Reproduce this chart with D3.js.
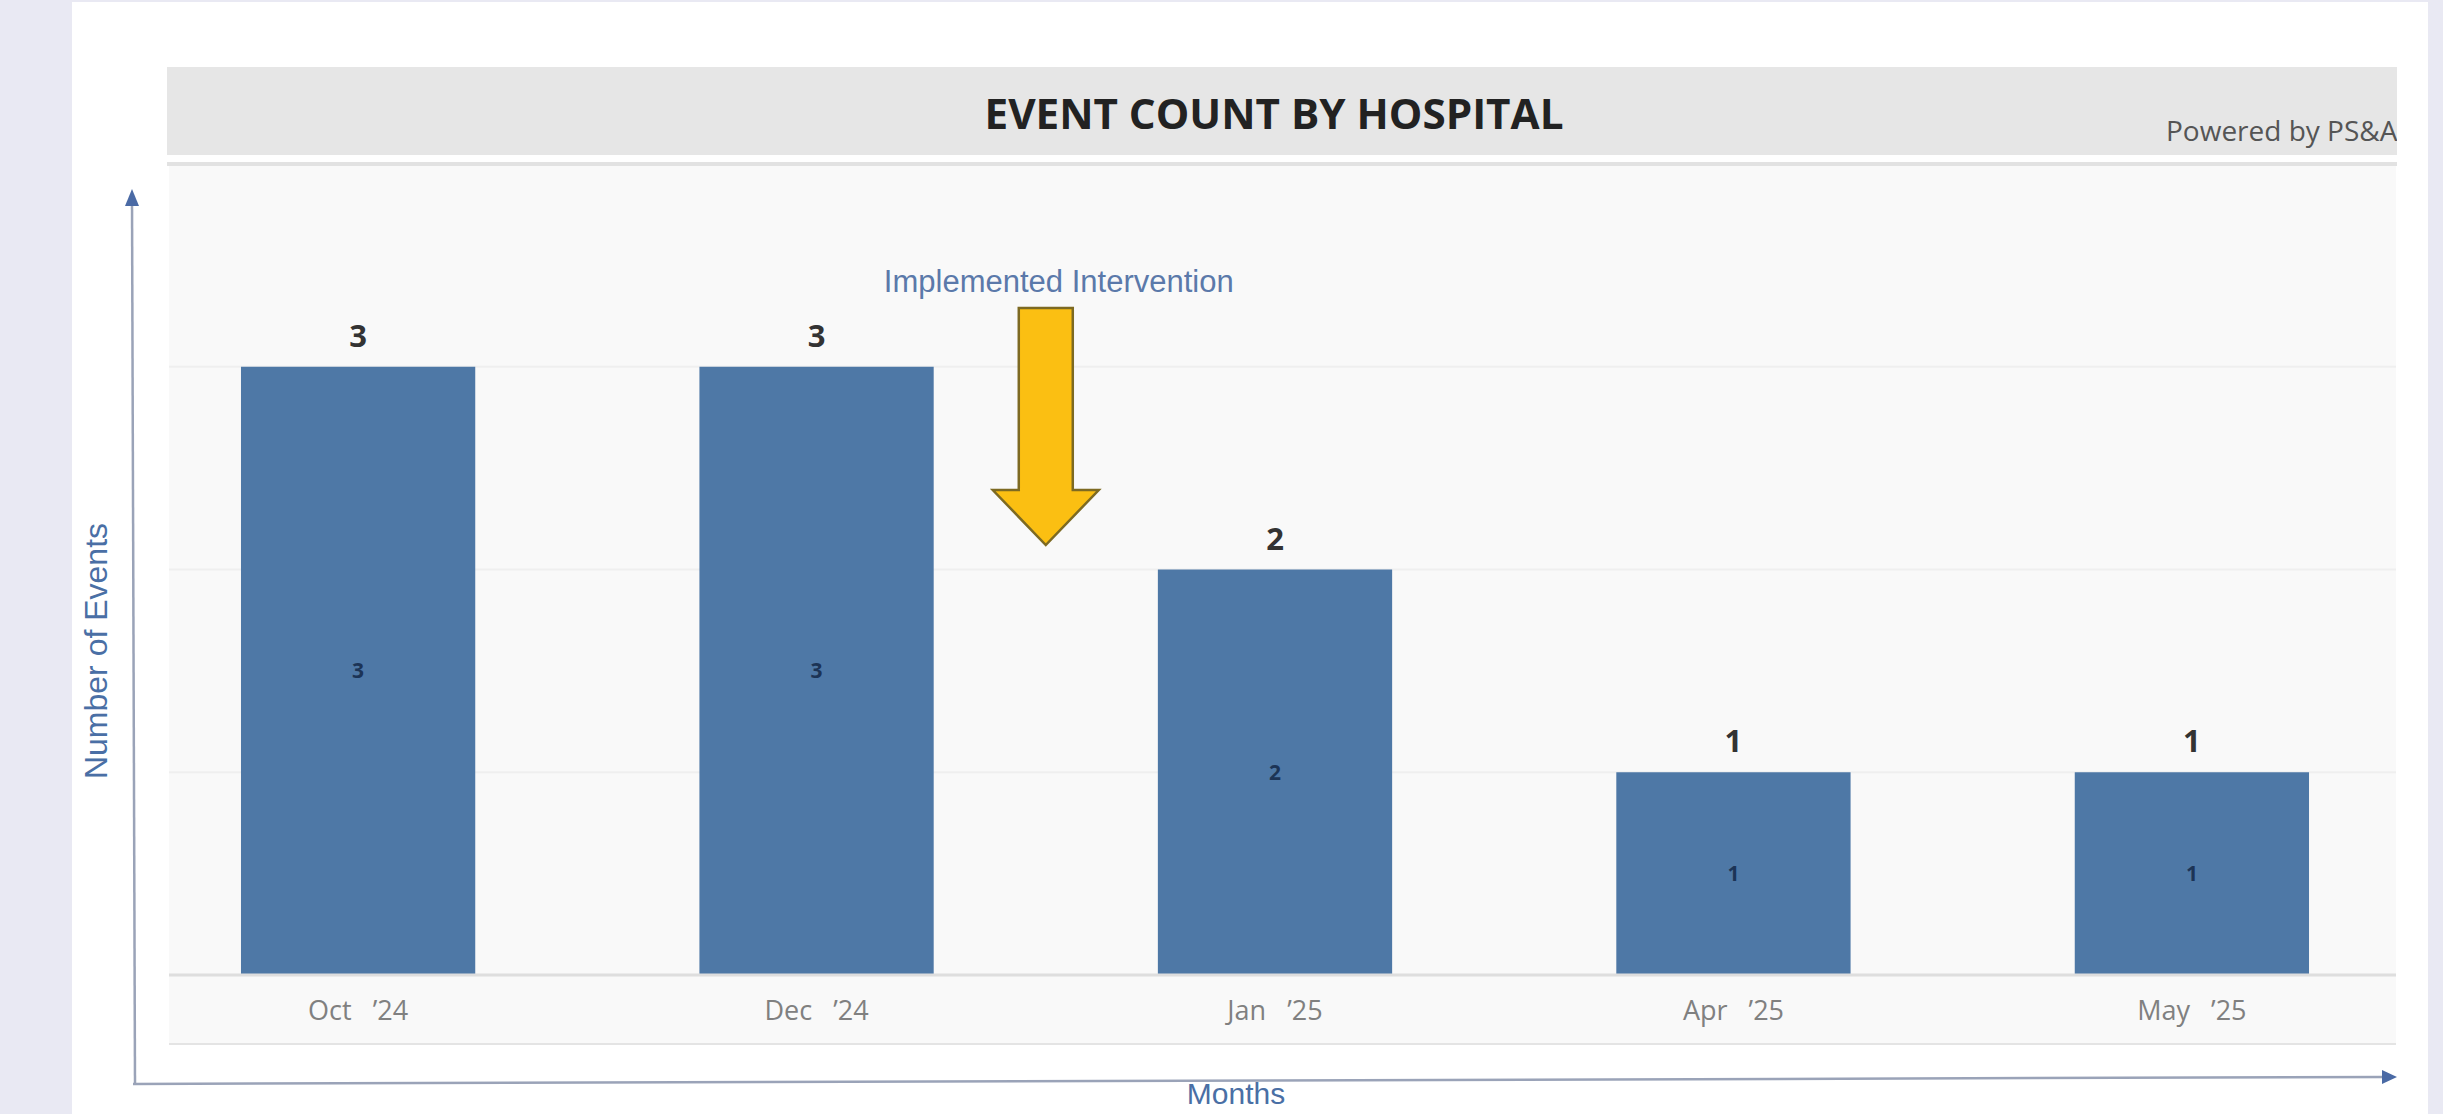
<!DOCTYPE html>
<html>
<head>
<meta charset="utf-8">
<script src="https://cdn.jsdelivr.net/npm/d3@7"></script>
<style>
  html, body { margin: 0; padding: 0; background: #e9e9f3; }
  svg { display: block; }
</style>
</head>
<body>
<div id="chart"></div>
<script>
// data
const months = ['Oct', 'Dec', 'Jan', 'Apr', 'May'];
const years = ['24', '24', '25', '25', '25'];
const counts = [3, 3, 2, 1, 1];
const yTicks = [1, 2, 3];

const data = months.map((m, i) => ({ month: m, label: m + '   \u2019' + years[i], value: counts[i] }));

const width = 2443, height = 1114;

const svg = d3.select('#chart').append('svg')
  .attr('width', width)
  .attr('height', height);

// white panel
svg.append('rect').attr('x', 72).attr('y', 2).attr('width', 2356).attr('height', height)
  .attr('fill', '#ffffff');

// title band
svg.append('defs').append('clipPath').attr('id', 'bandclip')
  .append('rect').attr('x', 167).attr('y', 67).attr('width', 2230).attr('height', 88);
svg.append('rect').attr('x', 167).attr('y', 67).attr('width', 2230).attr('height', 88)
  .attr('fill', '#e6e6e6');
svg.append('rect').attr('x', 167).attr('y', 162).attr('width', 2230).attr('height', 4)
  .attr('fill', '#e2e2e2');

svg.append('text')
  .attr('x', 1274).attr('y', 129)
  .attr('text-anchor', 'middle')
  .attr('textLength', 579)
  .attr('lengthAdjust', 'spacingAndGlyphs')
  .style('font-family', '"Open Sans", sans-serif')
  .style('font-weight', 700)
  .style('font-size', '41px')
  .attr('fill', '#222')
  .text('EVENT COUNT BY HOSPITAL');

svg.append('text')
  .attr('clip-path', 'url(#bandclip)')
  .attr('x', 2166).attr('y', 141)
  .style('font-family', '"Open Sans", sans-serif')
  .style('font-size', '28px')
  .attr('fill', '#555')
  .text('Powered by PS&A');

// plot area background
svg.append('rect').attr('x', 169).attr('y', 166).attr('width', 2227).attr('height', 879)
  .attr('fill', '#f9f9f9');
svg.append('rect').attr('x', 169).attr('y', 1043).attr('width', 2227).attr('height', 2)
  .attr('fill', '#e4e4e4');

// scales
const x = d3.scaleBand()
  .domain(months)
  .range([169, 2381])
  .paddingInner(0.489)
  .paddingOuter(0.157);

const y = d3.scaleLinear()
  .domain([0, 4])
  .range([975, 164]);

// gridlines
svg.append('g')
  .selectAll('line')
  .data(yTicks)
  .enter()
  .append('line')
    .attr('x1', 169).attr('x2', 2396)
    .attr('y1', d => y(d)).attr('y2', d => y(d))
    .attr('stroke', '#efefef')
    .attr('stroke-width', 2);

// bars
svg.append('g')
  .selectAll('rect')
  .data(data)
  .enter()
  .append('rect')
    .attr('x', d => x(d.month))
    .attr('y', d => y(d.value))
    .attr('width', x.bandwidth())
    .attr('height', d => y(0) - y(d.value))
    .attr('fill', '#4e78a6');

// zero line
svg.append('line')
  .attr('x1', 169).attr('x2', 2396)
  .attr('y1', y(0)).attr('y2', y(0))
  .attr('stroke', '#dedede')
  .attr('stroke-width', 3);

// value labels on top
svg.append('g')
  .selectAll('text')
  .data(data)
  .enter()
  .append('text')
    .attr('x', d => x(d.month) + x.bandwidth() / 2)
    .attr('y', d => y(d.value) - 20)
    .attr('text-anchor', 'middle')
    .style('font-family', '"Open Sans", sans-serif')
    .style('font-weight', 700)
    .style('font-size', '31px')
    .attr('fill', '#333')
    .text(d => d.value);

// value labels inside bars
svg.append('g')
  .selectAll('text')
  .data(data)
  .enter()
  .append('text')
    .attr('x', d => x(d.month) + x.bandwidth() / 2)
    .attr('y', d => (y(d.value) + y(0)) / 2)
    .attr('dy', '0.35em')
    .attr('text-anchor', 'middle')
    .style('font-family', '"Open Sans", sans-serif')
    .style('font-weight', 700)
    .style('font-size', '21px')
    .attr('fill', '#1c3456')
    .text(d => d.value);

// month labels
const xAxis = svg.append('g')
  .attr('transform', 'translate(0,' + y(0) + ')')
  .call(d3.axisBottom(x).tickSize(0).tickFormat((m, i) => data[i].label));
xAxis.select('.domain').remove();
xAxis.selectAll('text')
  .attr('y', 45)
  .attr('dy', 0)
  .style('white-space', 'pre')
  .style('font-family', '"Open Sans", sans-serif')
  .style('font-size', '27px')
  .attr('fill', '#808080');

// hand drawn axis arrows
svg.append('line')
  .attr('x1', 135).attr('y1', 1084).attr('x2', 132).attr('y2', 200)
  .attr('stroke', '#9aa3b8').attr('stroke-width', 2.5);
svg.append('path')
  .attr('d', 'M132,189 L139,206 L125,206 Z')
  .attr('fill', '#4a6aa5');

svg.append('line')
  .attr('x1', 133).attr('y1', 1084).attr('x2', 2386).attr('y2', 1077)
  .attr('stroke', '#9aa3b8').attr('stroke-width', 2.5);
svg.append('path')
  .attr('d', 'M2397,1077 L2382,1070 L2382,1084 Z')
  .attr('fill', '#4a6aa5');

svg.append('text')
  .attr('transform', 'translate(107,651) rotate(-90)')
  .attr('text-anchor', 'middle')
  .style('font-family', '"Liberation Sans", Arial, sans-serif')
  .style('font-size', '32px')
  .attr('fill', '#4a6fa5')
  .text('Number of Events');

svg.append('text')
  .attr('x', 1236).attr('y', 1104)
  .attr('text-anchor', 'middle')
  .style('font-family', '"Liberation Sans", Arial, sans-serif')
  .style('font-size', '30px')
  .attr('fill', '#4a6fa5')
  .text('Months');

// intervention annotation, between Dec and Jan
const cx = (x('Dec') + x('Jan')) / 2 + x.bandwidth() / 2;
const shaftW = 27, headW = 53;
const topY = 308, headY = 490, tipY = 545;
svg.append('path')
  .attr('d', `M${cx - shaftW},${topY} L${cx + shaftW},${topY} L${cx + shaftW},${headY}
    L${cx + headW},${headY} L${cx},${tipY} L${cx - headW},${headY} L${cx - shaftW},${headY} Z`)
  .attr('fill', '#fbbf12')
  .attr('stroke', '#7d6a22')
  .attr('stroke-width', 2.5)
  .attr('stroke-linejoin', 'miter');

svg.append('text')
  .attr('x', cx + 13).attr('y', 292)
  .attr('text-anchor', 'middle')
  .style('font-family', '"Liberation Sans", Arial, sans-serif')
  .style('font-size', '31px')
  .attr('fill', '#5b79aa')
  .text('Implemented Intervention');
</script>
</body>
</html>
